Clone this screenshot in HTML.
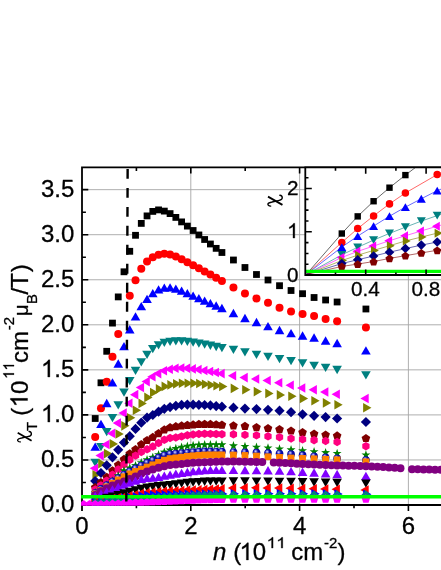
<!DOCTYPE html>
<html><head><meta charset="utf-8"><title>chart</title>
<style>html,body{margin:0;padding:0;background:#fff}body{width:441px;height:570px;overflow:hidden;font-family:"Liberation Sans",sans-serif}</style>
</head><body>
<svg width="441" height="570" viewBox="0 0 441 570" style="display:block">
<rect width="441" height="570" fill="#fff"/>
<defs><radialGradient id="sg" cx="0.42" cy="0.38" r="0.6" fx="0.38" fy="0.32"><stop offset="0" stop-color="#e6e6ff"/><stop offset="0.22" stop-color="#7a7ae0"/><stop offset="0.5" stop-color="#0a0aa6"/><stop offset="1" stop-color="#0000a0"/></radialGradient></defs>
<path d="M82 459.95 H441 M82 414.9 H441 M82 369.85 H441 M82 324.8 H441 M82 279.75 H441 M82 234.7 H441 M82 189.65 H441 M190.8 167.3 V505 M299.6 167.3 V505 M408.4 167.3 V505" stroke="#a6a6a6" stroke-width="0.9" fill="none"/>
<path d="M82 166.4 V511 M81.1 167.3 H441 M82 505 H441" stroke="#000" stroke-width="1.8" fill="none"/>
<path d="M82 482.48 h3.9 M82 459.95 h6.3 M82 437.43 h3.9 M82 414.9 h6.3 M82 392.38 h3.9 M82 369.85 h6.3 M82 347.33 h3.9 M82 324.8 h6.3 M82 302.27 h3.9 M82 279.75 h6.3 M82 257.23 h3.9 M82 234.7 h6.3 M82 212.18 h3.9 M82 189.65 h6.3 M136.4 167.3 v3.6 M190.8 167.3 v6.2 M245.2 167.3 v3.6 M299.6 167.3 v6.2 M136.4 505 v3.2 M190.8 505 v6 M245.2 505 v3.2 M299.6 505 v6 M354 505 v3.2 M408.4 505 v6" stroke="#000" stroke-width="1.6" fill="none"/>
<clipPath id="mc"><rect x="81.1" y="166.4" width="365" height="339.3"/></clipPath>
<g id="main" clip-path="url(#mc)">
<rect x="91.8" y="415.1" width="6.8" height="6.8" fill="#000000"/><rect x="97.56" y="379.4" width="6.8" height="6.8" fill="#000000"/><rect x="103.32" y="347.9" width="6.8" height="6.8" fill="#000000"/><rect x="109.08" y="319.7" width="6.8" height="6.8" fill="#000000"/><rect x="114.84" y="293.5" width="6.8" height="6.8" fill="#000000"/><rect x="120.6" y="268.4" width="6.8" height="6.8" fill="#000000"/><rect x="126.36" y="247.9" width="6.8" height="6.8" fill="#000000"/><rect x="132.12" y="231.9" width="6.8" height="6.8" fill="#000000"/><rect x="137.88" y="220" width="6.8" height="6.8" fill="#000000"/><rect x="143.64" y="212.5" width="6.8" height="6.8" fill="#000000"/><rect x="149.4" y="208" width="6.8" height="6.8" fill="#000000"/><rect x="155.16" y="206.5" width="6.8" height="6.8" fill="#000000"/><rect x="160.92" y="207.7" width="6.8" height="6.8" fill="#000000"/><rect x="166.68" y="210.2" width="6.8" height="6.8" fill="#000000"/><rect x="172.44" y="214" width="6.8" height="6.8" fill="#000000"/><rect x="178.2" y="218.5" width="6.8" height="6.8" fill="#000000"/><rect x="183.96" y="222.7" width="6.8" height="6.8" fill="#000000"/><rect x="189.72" y="227.1" width="6.8" height="6.8" fill="#000000"/><rect x="195.48" y="231.56" width="6.8" height="6.8" fill="#000000"/><rect x="201.24" y="236.09" width="6.8" height="6.8" fill="#000000"/><rect x="207" y="240.59" width="6.8" height="6.8" fill="#000000"/><rect x="212.76" y="244.95" width="6.8" height="6.8" fill="#000000"/><rect x="218.52" y="249.1" width="6.8" height="6.8" fill="#000000"/><rect x="230.04" y="256.6" width="6.8" height="6.8" fill="#000000"/><rect x="241.56" y="264.1" width="6.8" height="6.8" fill="#000000"/><rect x="253.08" y="271.1" width="6.8" height="6.8" fill="#000000"/><rect x="264.6" y="276.6" width="6.8" height="6.8" fill="#000000"/><rect x="276.12" y="282.3" width="6.8" height="6.8" fill="#000000"/><rect x="287.64" y="287.1" width="6.8" height="6.8" fill="#000000"/><rect x="299.16" y="290.3" width="6.8" height="6.8" fill="#000000"/><rect x="310.68" y="294.1" width="6.8" height="6.8" fill="#000000"/><rect x="322.2" y="296.6" width="6.8" height="6.8" fill="#000000"/><rect x="333.72" y="298.6" width="6.8" height="6.8" fill="#000000"/><rect x="362.52" y="305.6" width="6.8" height="6.8" fill="#000000"/>
<circle cx="95.2" cy="437" r="4" fill="#ff0000"/><circle cx="100.96" cy="408.2" r="4" fill="#ff0000"/><circle cx="106.72" cy="381.8" r="4" fill="#ff0000"/><circle cx="112.48" cy="356.8" r="4" fill="#ff0000"/><circle cx="118.24" cy="334.1" r="4" fill="#ff0000"/><circle cx="129.76" cy="295.83" r="4" fill="#ff0000"/><circle cx="135.52" cy="280.24" r="4" fill="#ff0000"/><circle cx="141.28" cy="268.85" r="4" fill="#ff0000"/><circle cx="147.04" cy="261.4" r="4" fill="#ff0000"/><circle cx="152.8" cy="257.2" r="4" fill="#ff0000"/><circle cx="158.56" cy="254.7" r="4" fill="#ff0000"/><circle cx="164.32" cy="253.7" r="4" fill="#ff0000"/><circle cx="170.08" cy="254.4" r="4" fill="#ff0000"/><circle cx="175.84" cy="256.4" r="4" fill="#ff0000"/><circle cx="181.6" cy="259.2" r="4" fill="#ff0000"/><circle cx="187.36" cy="262.2" r="4" fill="#ff0000"/><circle cx="193.12" cy="265.26" r="4" fill="#ff0000"/><circle cx="198.88" cy="268.33" r="4" fill="#ff0000"/><circle cx="204.64" cy="271.44" r="4" fill="#ff0000"/><circle cx="210.4" cy="274.57" r="4" fill="#ff0000"/><circle cx="216.16" cy="277.72" r="4" fill="#ff0000"/><circle cx="221.92" cy="280.9" r="4" fill="#ff0000"/><circle cx="233.44" cy="287.4" r="4" fill="#ff0000"/><circle cx="244.96" cy="293.4" r="4" fill="#ff0000"/><circle cx="256.48" cy="298.4" r="4" fill="#ff0000"/><circle cx="268" cy="302.8" r="4" fill="#ff0000"/><circle cx="279.52" cy="307.8" r="4" fill="#ff0000"/><circle cx="291.04" cy="311.6" r="4" fill="#ff0000"/><circle cx="302.56" cy="314.1" r="4" fill="#ff0000"/><circle cx="314.08" cy="316.1" r="4" fill="#ff0000"/><circle cx="325.6" cy="319.1" r="4" fill="#ff0000"/><circle cx="337.12" cy="321.3" r="4" fill="#ff0000"/><circle cx="365.92" cy="327.5" r="4" fill="#ff0000"/>
<polygon points="95.2,442.54 100,450.86 90.4,450.86" fill="#0000ff"/><polygon points="100.96,419.64 105.76,427.96 96.16,427.96" fill="#0000ff"/><polygon points="106.72,398.84 111.52,407.16 101.92,407.16" fill="#0000ff"/><polygon points="112.48,378.24 117.28,386.56 107.68,386.56" fill="#0000ff"/><polygon points="118.24,359.34 123.04,367.66 113.44,367.66" fill="#0000ff"/><polygon points="124,342.03 128.8,350.34 119.2,350.34" fill="#0000ff"/><polygon points="129.76,325.11 134.56,333.43 124.96,333.43" fill="#0000ff"/><polygon points="135.52,312.2 140.32,320.51 130.72,320.51" fill="#0000ff"/><polygon points="141.28,302 146.08,310.31 136.48,310.31" fill="#0000ff"/><polygon points="147.04,294.64 151.84,302.96 142.24,302.96" fill="#0000ff"/><polygon points="152.8,288.94 157.6,297.26 148,297.26" fill="#0000ff"/><polygon points="158.56,285.14 163.36,293.46 153.76,293.46" fill="#0000ff"/><polygon points="164.32,283.44 169.12,291.76 159.52,291.76" fill="#0000ff"/><polygon points="170.08,283.14 174.88,291.46 165.28,291.46" fill="#0000ff"/><polygon points="175.84,284.44 180.64,292.76 171.04,292.76" fill="#0000ff"/><polygon points="181.6,286.44 186.4,294.76 176.8,294.76" fill="#0000ff"/><polygon points="187.36,288.94 192.16,297.26 182.56,297.26" fill="#0000ff"/><polygon points="193.12,291.44 197.92,299.76 188.32,299.76" fill="#0000ff"/><polygon points="198.88,293.93 203.68,302.24 194.08,302.24" fill="#0000ff"/><polygon points="204.64,296.41 209.44,304.72 199.84,304.72" fill="#0000ff"/><polygon points="210.4,298.88 215.2,307.19 205.6,307.19" fill="#0000ff"/><polygon points="216.16,301.36 220.96,309.67 211.36,309.67" fill="#0000ff"/><polygon points="221.92,303.84 226.72,312.16 217.12,312.16" fill="#0000ff"/><polygon points="233.44,308.84 238.24,317.16 228.64,317.16" fill="#0000ff"/><polygon points="244.96,313.84 249.76,322.16 240.16,322.16" fill="#0000ff"/><polygon points="256.48,317.84 261.28,326.16 251.68,326.16" fill="#0000ff"/><polygon points="268,322.04 272.8,330.36 263.2,330.36" fill="#0000ff"/><polygon points="279.52,325.84 284.32,334.16 274.72,334.16" fill="#0000ff"/><polygon points="291.04,329.04 295.84,337.36 286.24,337.36" fill="#0000ff"/><polygon points="302.56,331.34 307.36,339.66 297.76,339.66" fill="#0000ff"/><polygon points="314.08,333.34 318.88,341.66 309.28,341.66" fill="#0000ff"/><polygon points="325.6,336.34 330.4,344.66 320.8,344.66" fill="#0000ff"/><polygon points="337.12,338.84 341.92,347.16 332.32,347.16" fill="#0000ff"/><polygon points="365.92,346.24 370.72,354.56 361.12,354.56" fill="#0000ff"/>
<polygon points="95.2,466.96 100,458.64 90.4,458.64" fill="#008080"/><polygon points="100.96,451.36 105.76,443.04 96.16,443.04" fill="#008080"/><polygon points="106.72,436.26 111.52,427.94 101.92,427.94" fill="#008080"/><polygon points="112.48,422.36 117.28,414.04 107.68,414.04" fill="#008080"/><polygon points="118.24,409.46 123.04,401.14 113.44,401.14" fill="#008080"/><polygon points="124,396.8 128.8,388.48 119.2,388.48" fill="#008080"/><polygon points="129.76,385.36 134.56,377.05 124.96,377.05" fill="#008080"/><polygon points="135.52,375.01 140.32,366.7 130.72,366.7" fill="#008080"/><polygon points="141.28,366.48 146.08,358.16 136.48,358.16" fill="#008080"/><polygon points="147.04,359.06 151.84,350.74 142.24,350.74" fill="#008080"/><polygon points="152.8,353.36 157.6,345.04 148,345.04" fill="#008080"/><polygon points="158.56,349.56 163.36,341.24 153.76,341.24" fill="#008080"/><polygon points="164.32,347.06 169.12,338.74 159.52,338.74" fill="#008080"/><polygon points="170.08,346.06 174.88,337.74 165.28,337.74" fill="#008080"/><polygon points="175.84,345.56 180.64,337.24 171.04,337.24" fill="#008080"/><polygon points="181.6,345.56 186.4,337.24 176.8,337.24" fill="#008080"/><polygon points="187.36,346.06 192.16,337.74 182.56,337.74" fill="#008080"/><polygon points="193.12,346.76 197.92,338.44 188.32,338.44" fill="#008080"/><polygon points="198.88,347.69 203.68,339.38 194.08,339.38" fill="#008080"/><polygon points="204.64,348.76 209.44,340.44 199.84,340.44" fill="#008080"/><polygon points="210.4,349.92 215.2,341.6 205.6,341.6" fill="#008080"/><polygon points="216.16,351.14 220.96,342.83 211.36,342.83" fill="#008080"/><polygon points="221.92,352.26 226.72,343.94 217.12,343.94" fill="#008080"/><polygon points="233.44,354.06 238.24,345.74 228.64,345.74" fill="#008080"/><polygon points="244.96,356.56 249.76,348.24 240.16,348.24" fill="#008080"/><polygon points="256.48,359.06 261.28,350.74 251.68,350.74" fill="#008080"/><polygon points="268,361.06 272.8,352.74 263.2,352.74" fill="#008080"/><polygon points="279.52,363.36 284.32,355.04 274.72,355.04" fill="#008080"/><polygon points="291.04,365.36 295.84,357.04 286.24,357.04" fill="#008080"/><polygon points="302.56,367.56 307.36,359.24 297.76,359.24" fill="#008080"/><polygon points="314.08,370.06 318.88,361.74 309.28,361.74" fill="#008080"/><polygon points="325.6,372.06 330.4,363.74 320.8,363.74" fill="#008080"/><polygon points="337.12,374.16 341.92,365.84 332.32,365.84" fill="#008080"/><polygon points="365.92,379.56 370.72,371.24 361.12,371.24" fill="#008080"/>
<polygon points="89.66,468.3 97.97,463.5 97.97,473.1" fill="#ff00ff"/><polygon points="95.42,455.6 103.73,450.8 103.73,460.4" fill="#ff00ff"/><polygon points="101.18,444.5 109.49,439.7 109.49,449.3" fill="#ff00ff"/><polygon points="106.94,433.4 115.25,428.6 115.25,438.2" fill="#ff00ff"/><polygon points="112.7,423.1 121.01,418.3 121.01,427.9" fill="#ff00ff"/><polygon points="118.46,413.11 126.77,408.31 126.77,417.91" fill="#ff00ff"/><polygon points="124.22,403.19 132.53,398.39 132.53,407.99" fill="#ff00ff"/><polygon points="129.98,394.67 138.29,389.87 138.29,399.47" fill="#ff00ff"/><polygon points="135.74,387.45 144.05,382.65 144.05,392.25" fill="#ff00ff"/><polygon points="141.5,381.6 149.81,376.8 149.81,386.4" fill="#ff00ff"/><polygon points="147.26,376.8 155.57,372 155.57,381.6" fill="#ff00ff"/><polygon points="153.02,373.6 161.33,368.8 161.33,378.4" fill="#ff00ff"/><polygon points="158.78,370.8 167.09,366 167.09,375.6" fill="#ff00ff"/><polygon points="164.54,369.3 172.85,364.5 172.85,374.1" fill="#ff00ff"/><polygon points="170.3,368.3 178.61,363.5 178.61,373.1" fill="#ff00ff"/><polygon points="176.06,368 184.37,363.2 184.37,372.8" fill="#ff00ff"/><polygon points="181.82,368.3 190.13,363.5 190.13,373.1" fill="#ff00ff"/><polygon points="187.58,368.9 195.89,364.1 195.89,373.7" fill="#ff00ff"/><polygon points="193.34,369.6 201.65,364.8 201.65,374.4" fill="#ff00ff"/><polygon points="199.1,370.47 207.41,365.67 207.41,375.27" fill="#ff00ff"/><polygon points="204.86,371.47 213.17,366.67 213.17,376.27" fill="#ff00ff"/><polygon points="210.62,372.53 218.93,367.73 218.93,377.33" fill="#ff00ff"/><polygon points="216.38,373.6 224.69,368.8 224.69,378.4" fill="#ff00ff"/><polygon points="227.9,375.8 236.21,371 236.21,380.6" fill="#ff00ff"/><polygon points="239.42,377.6 247.73,372.8 247.73,382.4" fill="#ff00ff"/><polygon points="250.94,379 259.25,374.2 259.25,383.8" fill="#ff00ff"/><polygon points="262.46,380.5 270.77,375.7 270.77,385.3" fill="#ff00ff"/><polygon points="273.98,382.7 282.29,377.9 282.29,387.5" fill="#ff00ff"/><polygon points="285.5,385.3 293.81,380.5 293.81,390.1" fill="#ff00ff"/><polygon points="297.02,388 305.33,383.2 305.33,392.8" fill="#ff00ff"/><polygon points="308.54,389.8 316.85,385 316.85,394.6" fill="#ff00ff"/><polygon points="320.06,392 328.37,387.2 328.37,396.8" fill="#ff00ff"/><polygon points="331.58,394.3 339.89,389.5 339.89,399.1" fill="#ff00ff"/><polygon points="360.38,398.5 368.69,393.7 368.69,403.3" fill="#ff00ff"/>
<polygon points="100.74,474.7 92.43,469.9 92.43,479.5" fill="#808000"/><polygon points="106.5,463.6 98.19,458.8 98.19,468.4" fill="#808000"/><polygon points="112.26,453.6 103.95,448.8 103.95,458.4" fill="#808000"/><polygon points="118.02,443.9 109.71,439.1 109.71,448.7" fill="#808000"/><polygon points="123.78,434 115.47,429.2 115.47,438.8" fill="#808000"/><polygon points="129.54,425.84 121.23,421.04 121.23,430.64" fill="#808000"/><polygon points="135.3,417.72 126.99,412.92 126.99,422.52" fill="#808000"/><polygon points="141.06,410.2 132.75,405.4 132.75,415" fill="#808000"/><polygon points="146.82,403.38 138.51,398.58 138.51,408.18" fill="#808000"/><polygon points="152.58,397.4 144.27,392.6 144.27,402.2" fill="#808000"/><polygon points="158.34,392.5 150.03,387.7 150.03,397.3" fill="#808000"/><polygon points="164.1,388.9 155.79,384.1 155.79,393.7" fill="#808000"/><polygon points="169.86,386.41 161.55,381.61 161.55,391.21" fill="#808000"/><polygon points="175.62,384.88 167.31,380.08 167.31,389.68" fill="#808000"/><polygon points="181.38,383.83 173.07,379.03 173.07,388.63" fill="#808000"/><polygon points="187.14,383.3 178.83,378.5 178.83,388.1" fill="#808000"/><polygon points="192.9,383.2 184.59,378.4 184.59,388" fill="#808000"/><polygon points="198.66,383.28 190.35,378.48 190.35,388.08" fill="#808000"/><polygon points="204.42,383.5 196.11,378.7 196.11,388.3" fill="#808000"/><polygon points="210.18,384.3 201.87,379.5 201.87,389.1" fill="#808000"/><polygon points="215.94,385.03 207.63,380.23 207.63,389.83" fill="#808000"/><polygon points="221.7,385.73 213.39,380.93 213.39,390.53" fill="#808000"/><polygon points="227.46,386.5 219.15,381.7 219.15,391.3" fill="#808000"/><polygon points="238.98,388.4 230.67,383.6 230.67,393.2" fill="#808000"/><polygon points="250.5,389.8 242.19,385 242.19,394.6" fill="#808000"/><polygon points="262.02,391.6 253.71,386.8 253.71,396.4" fill="#808000"/><polygon points="273.54,393.4 265.23,388.6 265.23,398.2" fill="#808000"/><polygon points="285.06,394.9 276.75,390.1 276.75,399.7" fill="#808000"/><polygon points="296.58,396.2 288.27,391.4 288.27,401" fill="#808000"/><polygon points="308.1,398.5 299.79,393.7 299.79,403.3" fill="#808000"/><polygon points="319.62,400.7 311.31,395.9 311.31,405.5" fill="#808000"/><polygon points="331.14,402.9 322.83,398.1 322.83,407.7" fill="#808000"/><polygon points="342.66,404.8 334.35,400 334.35,409.6" fill="#808000"/><polygon points="371.46,407.7 363.15,402.9 363.15,412.5" fill="#808000"/>
<polygon points="95.2,475.9 100.3,481 95.2,486.1 90.1,481" fill="#000080"/><polygon points="100.96,467.9 106.06,473 100.96,478.1 95.86,473" fill="#000080"/><polygon points="106.72,460.2 111.82,465.3 106.72,470.4 101.62,465.3" fill="#000080"/><polygon points="112.48,452.2 117.58,457.3 112.48,462.4 107.38,457.3" fill="#000080"/><polygon points="118.24,444.7 123.34,449.8 118.24,454.9 113.14,449.8" fill="#000080"/><polygon points="124,437.5 129.1,442.6 124,447.7 118.9,442.6" fill="#000080"/><polygon points="129.76,431.1 134.86,436.2 129.76,441.3 124.66,436.2" fill="#000080"/><polygon points="135.52,423.8 140.62,428.9 135.52,434 130.42,428.9" fill="#000080"/><polygon points="141.28,417.6 146.38,422.7 141.28,427.8 136.18,422.7" fill="#000080"/><polygon points="147.04,412.5 152.14,417.6 147.04,422.7 141.94,417.6" fill="#000080"/><polygon points="152.8,409.9 157.9,415 152.8,420.1 147.7,415" fill="#000080"/><polygon points="158.56,406.6 163.66,411.7 158.56,416.8 153.46,411.7" fill="#000080"/><polygon points="164.32,403.73 169.42,408.83 164.32,413.93 159.22,408.83" fill="#000080"/><polygon points="170.08,401.94 175.18,407.04 170.08,412.14 164.98,407.04" fill="#000080"/><polygon points="175.84,400.71 180.94,405.81 175.84,410.91 170.74,405.81" fill="#000080"/><polygon points="181.6,399.84 186.7,404.94 181.6,410.04 176.5,404.94" fill="#000080"/><polygon points="187.36,399.5 192.46,404.6 187.36,409.7 182.26,404.6" fill="#000080"/><polygon points="193.12,399.56 198.22,404.66 193.12,409.76 188.02,404.66" fill="#000080"/><polygon points="198.88,399.7 203.98,404.8 198.88,409.9 193.78,404.8" fill="#000080"/><polygon points="204.64,399.9 209.74,405 204.64,410.1 199.54,405" fill="#000080"/><polygon points="210.4,400.32 215.5,405.42 210.4,410.52 205.3,405.42" fill="#000080"/><polygon points="216.16,400.97 221.26,406.07 216.16,411.17 211.06,406.07" fill="#000080"/><polygon points="221.92,401.6 227.02,406.7 221.92,411.8 216.82,406.7" fill="#000080"/><polygon points="233.44,402.6 238.54,407.7 233.44,412.8 228.34,407.7" fill="#000080"/><polygon points="244.96,403.5 250.06,408.6 244.96,413.7 239.86,408.6" fill="#000080"/><polygon points="256.48,404 261.58,409.1 256.48,414.2 251.38,409.1" fill="#000080"/><polygon points="268,404.7 273.1,409.8 268,414.9 262.9,409.8" fill="#000080"/><polygon points="279.52,405.6 284.62,410.7 279.52,415.8 274.42,410.7" fill="#000080"/><polygon points="291.04,407.1 296.14,412.2 291.04,417.3 285.94,412.2" fill="#000080"/><polygon points="302.56,409.2 307.66,414.3 302.56,419.4 297.46,414.3" fill="#000080"/><polygon points="314.08,410.7 319.18,415.8 314.08,420.9 308.98,415.8" fill="#000080"/><polygon points="325.6,412 330.7,417.1 325.6,422.2 320.5,417.1" fill="#000080"/><polygon points="337.12,413.4 342.22,418.5 337.12,423.6 332.02,418.5" fill="#000080"/><polygon points="365.92,416.9 371.02,422 365.92,427.1 360.82,422" fill="#000080"/>
<polygon points="95.2,482.88 99.53,486.02 97.87,491.11 92.53,491.11 90.87,486.02" fill="#800000"/><polygon points="100.96,477.88 105.29,481.02 103.63,486.11 98.29,486.11 96.63,481.02" fill="#800000"/><polygon points="106.72,472.68 111.05,475.82 109.39,480.91 104.05,480.91 102.39,475.82" fill="#800000"/><polygon points="112.48,466.18 116.81,469.32 115.15,474.41 109.81,474.41 108.15,469.32" fill="#800000"/><polygon points="118.24,460.48 122.57,463.62 120.91,468.71 115.57,468.71 113.91,463.62" fill="#800000"/><polygon points="124,454.78 128.33,457.92 126.67,463.01 121.33,463.01 119.67,457.92" fill="#800000"/><polygon points="129.76,449.18 134.09,452.32 132.43,457.41 127.09,457.41 125.43,452.32" fill="#800000"/><polygon points="135.52,444.88 139.85,448.02 138.19,453.11 132.85,453.11 131.19,448.02" fill="#800000"/><polygon points="141.28,439.88 145.61,443.02 143.95,448.11 138.61,448.11 136.95,443.02" fill="#800000"/><polygon points="147.04,435.88 151.37,439.02 149.71,444.11 144.37,444.11 142.71,439.02" fill="#800000"/><polygon points="152.8,432.76 157.13,435.9 155.47,440.99 150.13,440.99 148.47,435.9" fill="#800000"/><polygon points="158.56,428.92 162.89,432.07 161.23,437.16 155.89,437.16 154.23,432.07" fill="#800000"/><polygon points="164.32,425.33 168.65,428.47 166.99,433.56 161.65,433.56 159.99,428.47" fill="#800000"/><polygon points="170.08,423.08 174.41,426.22 172.75,431.31 167.41,431.31 165.75,426.22" fill="#800000"/><polygon points="175.84,422.04 180.17,425.19 178.51,430.27 173.17,430.27 171.51,425.19" fill="#800000"/><polygon points="181.6,421.29 185.93,424.43 184.27,429.52 178.93,429.52 177.27,424.43" fill="#800000"/><polygon points="187.36,420.72 191.69,423.87 190.03,428.96 184.69,428.96 183.03,423.87" fill="#800000"/><polygon points="193.12,420.27 197.45,423.41 195.79,428.5 190.45,428.5 188.79,423.41" fill="#800000"/><polygon points="198.88,419.86 203.21,423 201.55,428.09 196.21,428.09 194.55,423" fill="#800000"/><polygon points="204.64,419.68 208.97,422.82 207.31,427.91 201.97,427.91 200.31,422.82" fill="#800000"/><polygon points="210.4,419.82 214.73,422.96 213.07,428.05 207.73,428.05 206.07,422.96" fill="#800000"/><polygon points="216.16,420.14 220.49,423.28 218.83,428.37 213.49,428.37 211.83,423.28" fill="#800000"/><polygon points="221.92,420.48 226.25,423.62 224.59,428.71 219.25,428.71 217.59,423.62" fill="#800000"/><polygon points="233.44,421.18 237.77,424.32 236.11,429.41 230.77,429.41 229.11,424.32" fill="#800000"/><polygon points="244.96,421.68 249.29,424.82 247.63,429.91 242.29,429.91 240.63,424.82" fill="#800000"/><polygon points="256.48,422.98 260.81,426.12 259.15,431.21 253.81,431.21 252.15,426.12" fill="#800000"/><polygon points="268,423.88 272.33,427.02 270.67,432.11 265.33,432.11 263.67,427.02" fill="#800000"/><polygon points="279.52,424.98 283.85,428.12 282.19,433.21 276.85,433.21 275.19,428.12" fill="#800000"/><polygon points="291.04,426.38 295.37,429.52 293.71,434.61 288.37,434.61 286.71,429.52" fill="#800000"/><polygon points="302.56,427.98 306.89,431.12 305.23,436.21 299.89,436.21 298.23,431.12" fill="#800000"/><polygon points="314.08,429.48 318.41,432.62 316.75,437.71 311.41,437.71 309.75,432.62" fill="#800000"/><polygon points="325.6,430.38 329.93,433.52 328.27,438.61 322.93,438.61 321.27,433.52" fill="#800000"/><polygon points="337.12,431.28 341.45,434.42 339.79,439.51 334.45,439.51 332.79,434.42" fill="#800000"/><polygon points="365.92,433.88 370.25,437.02 368.59,442.11 363.25,442.11 361.59,437.02" fill="#800000"/>
<polygon points="95.2,485.3 98.84,487.4 98.84,491.6 95.2,493.7 91.56,491.6 91.56,487.4" fill="#ff0080"/><polygon points="100.96,481.24 104.6,483.34 104.6,487.54 100.96,489.64 97.32,487.54 97.32,483.34" fill="#ff0080"/><polygon points="106.72,476.4 110.36,478.5 110.36,482.7 106.72,484.8 103.08,482.7 103.08,478.5" fill="#ff0080"/><polygon points="112.48,470.6 116.12,472.7 116.12,476.9 112.48,479 108.84,476.9 108.84,472.7" fill="#ff0080"/><polygon points="118.24,465.2 121.88,467.3 121.88,471.5 118.24,473.6 114.6,471.5 114.6,467.3" fill="#ff0080"/><polygon points="124,460.4 127.64,462.5 127.64,466.7 124,468.8 120.36,466.7 120.36,462.5" fill="#ff0080"/><polygon points="129.76,455.6 133.4,457.7 133.4,461.9 129.76,464 126.12,461.9 126.12,457.7" fill="#ff0080"/><polygon points="135.52,451.39 139.16,453.49 139.16,457.69 135.52,459.79 131.88,457.69 131.88,453.49" fill="#ff0080"/><polygon points="141.28,447.8 144.92,449.9 144.92,454.1 141.28,456.2 137.64,454.1 137.64,449.9" fill="#ff0080"/><polygon points="147.04,445.12 150.68,447.22 150.68,451.42 147.04,453.52 143.4,451.42 143.4,447.22" fill="#ff0080"/><polygon points="152.8,442.33 156.44,444.43 156.44,448.63 152.8,450.73 149.16,448.63 149.16,444.43" fill="#ff0080"/><polygon points="158.56,438.83 162.2,440.93 162.2,445.13 158.56,447.23 154.92,445.13 154.92,440.93" fill="#ff0080"/><polygon points="164.32,435.62 167.96,437.72 167.96,441.92 164.32,444.02 160.68,441.92 160.68,437.72" fill="#ff0080"/><polygon points="170.08,433.8 173.72,435.9 173.72,440.1 170.08,442.2 166.44,440.1 166.44,435.9" fill="#ff0080"/><polygon points="175.84,433.3 179.48,435.4 179.48,439.6 175.84,441.7 172.2,439.6 172.2,435.4" fill="#ff0080"/><polygon points="181.6,432.27 185.24,434.37 185.24,438.57 181.6,440.67 177.96,438.57 177.96,434.37" fill="#ff0080"/><polygon points="187.36,431.04 191,433.14 191,437.34 187.36,439.44 183.72,437.34 183.72,433.14" fill="#ff0080"/><polygon points="193.12,430.32 196.76,432.42 196.76,436.62 193.12,438.72 189.48,436.62 189.48,432.42" fill="#ff0080"/><polygon points="198.88,429.82 202.52,431.92 202.52,436.12 198.88,438.22 195.24,436.12 195.24,431.92" fill="#ff0080"/><polygon points="204.64,429.6 208.28,431.7 208.28,435.9 204.64,438 201,435.9 201,431.7" fill="#ff0080"/><polygon points="210.4,429.69 214.04,431.79 214.04,435.99 210.4,438.09 206.76,435.99 206.76,431.79" fill="#ff0080"/><polygon points="216.16,429.86 219.8,431.96 219.8,436.16 216.16,438.26 212.52,436.16 212.52,431.96" fill="#ff0080"/><polygon points="221.92,430 225.56,432.1 225.56,436.3 221.92,438.4 218.28,436.3 218.28,432.1" fill="#ff0080"/><polygon points="233.44,430.1 237.08,432.2 237.08,436.4 233.44,438.5 229.8,436.4 229.8,432.2" fill="#ff0080"/><polygon points="244.96,430.7 248.6,432.8 248.6,437 244.96,439.1 241.32,437 241.32,432.8" fill="#ff0080"/><polygon points="256.48,431.2 260.12,433.3 260.12,437.5 256.48,439.6 252.84,437.5 252.84,433.3" fill="#ff0080"/><polygon points="268,432.1 271.64,434.2 271.64,438.4 268,440.5 264.36,438.4 264.36,434.2" fill="#ff0080"/><polygon points="279.52,433 283.16,435.1 283.16,439.3 279.52,441.4 275.88,439.3 275.88,435.1" fill="#ff0080"/><polygon points="291.04,434.3 294.68,436.4 294.68,440.6 291.04,442.7 287.4,440.6 287.4,436.4" fill="#ff0080"/><polygon points="302.56,435.2 306.2,437.3 306.2,441.5 302.56,443.6 298.92,441.5 298.92,437.3" fill="#ff0080"/><polygon points="314.08,436.01 317.72,438.11 317.72,442.31 314.08,444.41 310.44,442.31 310.44,438.11" fill="#ff0080"/><polygon points="325.6,436.81 329.24,438.91 329.24,443.11 325.6,445.21 321.96,443.11 321.96,438.91" fill="#ff0080"/><polygon points="337.12,437.8 340.76,439.9 340.76,444.1 337.12,446.2 333.48,444.1 333.48,439.9" fill="#ff0080"/><polygon points="365.92,442 369.56,444.1 369.56,448.3 365.92,450.4 362.28,448.3 362.28,444.1" fill="#ff0080"/>
<polygon points="95.2,488 96.31,491.18 99.67,491.25 96.99,493.28 97.96,496.5 95.2,494.58 92.44,496.5 93.41,493.28 90.73,491.25 94.09,491.18" fill="#008000"/><polygon points="100.96,484.59 102.07,487.77 105.43,487.84 102.75,489.87 103.72,493.09 100.96,491.17 98.2,493.09 99.17,489.87 96.49,487.84 99.85,487.77" fill="#008000"/><polygon points="106.72,480.6 107.83,483.78 111.19,483.84 108.51,485.88 109.48,489.1 106.72,487.18 103.96,489.1 104.93,485.88 102.25,483.84 105.61,483.78" fill="#008000"/><polygon points="112.48,476.2 113.59,479.38 116.95,479.45 114.27,481.48 115.24,484.7 112.48,482.78 109.72,484.7 110.69,481.48 108.01,479.45 111.37,479.38" fill="#008000"/><polygon points="118.24,471.1 119.35,474.28 122.71,474.35 120.03,476.38 121,479.6 118.24,477.68 115.48,479.6 116.45,476.38 113.77,474.35 117.13,474.28" fill="#008000"/><polygon points="124,466 125.11,469.18 128.47,469.25 125.79,471.28 126.76,474.5 124,472.58 121.24,474.5 122.21,471.28 119.53,469.25 122.89,469.18" fill="#008000"/><polygon points="129.76,463.25 130.87,466.42 134.23,466.49 131.55,468.53 132.52,471.75 129.76,469.83 127,471.75 127.97,468.53 125.29,466.49 128.65,466.42" fill="#008000"/><polygon points="135.52,460.9 136.63,464.08 139.99,464.15 137.31,466.18 138.28,469.4 135.52,467.48 132.76,469.4 133.73,466.18 131.05,464.15 134.41,464.08" fill="#008000"/><polygon points="141.28,457.95 142.39,461.13 145.75,461.2 143.07,463.24 144.04,466.46 141.28,464.53 138.52,466.46 139.49,463.24 136.81,461.2 140.17,461.13" fill="#008000"/><polygon points="147.04,455.1 148.15,458.28 151.51,458.35 148.83,460.38 149.8,463.6 147.04,461.68 144.28,463.6 145.25,460.38 142.57,458.35 145.93,458.28" fill="#008000"/><polygon points="152.8,452.69 153.91,455.87 157.27,455.94 154.59,457.97 155.56,461.19 152.8,459.27 150.04,461.19 151.01,457.97 148.33,455.94 151.69,455.87" fill="#008000"/><polygon points="158.56,450.01 159.67,453.19 163.03,453.26 160.35,455.29 161.32,458.51 158.56,456.59 155.8,458.51 156.77,455.29 154.09,453.26 157.45,453.19" fill="#008000"/><polygon points="164.32,447.42 165.43,450.59 168.79,450.66 166.11,452.7 167.08,455.92 164.32,454 161.56,455.92 162.53,452.7 159.85,450.66 163.21,450.59" fill="#008000"/><polygon points="170.08,445.3 171.19,448.48 174.55,448.55 171.87,450.58 172.84,453.8 170.08,451.88 167.32,453.8 168.29,450.58 165.61,448.55 168.97,448.48" fill="#008000"/><polygon points="175.84,443.74 176.95,446.92 180.31,446.99 177.63,449.02 178.6,452.24 175.84,450.32 173.08,452.24 174.05,449.02 171.37,446.99 174.73,446.92" fill="#008000"/><polygon points="181.6,442.5 182.71,445.68 186.07,445.75 183.39,447.78 184.36,451 181.6,449.08 178.84,451 179.81,447.78 177.13,445.75 180.49,445.68" fill="#008000"/><polygon points="187.36,441.49 188.47,444.66 191.83,444.73 189.15,446.77 190.12,449.99 187.36,448.07 184.6,449.99 185.57,446.77 182.89,444.73 186.25,444.66" fill="#008000"/><polygon points="193.12,440.83 194.23,444 197.59,444.07 194.91,446.11 195.88,449.33 193.12,447.41 190.36,449.33 191.33,446.11 188.65,444.07 192.01,444" fill="#008000"/><polygon points="198.88,440.32 199.99,443.5 203.35,443.57 200.67,445.6 201.64,448.82 198.88,446.9 196.12,448.82 197.09,445.6 194.41,443.57 197.77,443.5" fill="#008000"/><polygon points="204.64,440.1 205.75,443.28 209.11,443.35 206.43,445.38 207.4,448.6 204.64,446.68 201.88,448.6 202.85,445.38 200.17,443.35 203.53,443.28" fill="#008000"/><polygon points="210.4,440.1 211.51,443.28 214.87,443.35 212.19,445.38 213.16,448.6 210.4,446.68 207.64,448.6 208.61,445.38 205.93,443.35 209.29,443.28" fill="#008000"/><polygon points="216.16,440.1 217.27,443.28 220.63,443.35 217.95,445.38 218.92,448.6 216.16,446.68 213.4,448.6 214.37,445.38 211.69,443.35 215.05,443.28" fill="#008000"/><polygon points="221.92,440.1 223.03,443.28 226.39,443.35 223.71,445.38 224.68,448.6 221.92,446.68 219.16,448.6 220.13,445.38 217.45,443.35 220.81,443.28" fill="#008000"/><polygon points="233.44,441.1 234.55,444.28 237.91,444.35 235.23,446.38 236.2,449.6 233.44,447.68 230.68,449.6 231.65,446.38 228.97,444.35 232.33,444.28" fill="#008000"/><polygon points="244.96,441.8 246.07,444.98 249.43,445.05 246.75,447.08 247.72,450.3 244.96,448.38 242.2,450.3 243.17,447.08 240.49,445.05 243.85,444.98" fill="#008000"/><polygon points="256.48,442.5 257.59,445.68 260.95,445.75 258.27,447.78 259.24,451 256.48,449.08 253.72,451 254.69,447.78 252.01,445.75 255.37,445.68" fill="#008000"/><polygon points="268,443.3 269.11,446.48 272.47,446.55 269.79,448.58 270.76,451.8 268,449.88 265.24,451.8 266.21,448.58 263.53,446.55 266.89,446.48" fill="#008000"/><polygon points="279.52,444.2 280.63,447.38 283.99,447.45 281.31,449.48 282.28,452.7 279.52,450.78 276.76,452.7 277.73,449.48 275.05,447.45 278.41,447.38" fill="#008000"/><polygon points="291.04,445.1 292.15,448.28 295.51,448.35 292.83,450.38 293.8,453.6 291.04,451.68 288.28,453.6 289.25,450.38 286.57,448.35 289.93,448.28" fill="#008000"/><polygon points="302.56,446.03 303.67,449.21 307.03,449.28 304.35,451.31 305.32,454.53 302.56,452.61 299.8,454.53 300.77,451.31 298.09,449.28 301.45,449.21" fill="#008000"/><polygon points="314.08,446.98 315.19,450.16 318.55,450.23 315.87,452.26 316.84,455.48 314.08,453.56 311.32,455.48 312.29,452.26 309.61,450.23 312.97,450.16" fill="#008000"/><polygon points="325.6,447.89 326.71,451.07 330.07,451.14 327.39,453.17 328.36,456.39 325.6,454.47 322.84,456.39 323.81,453.17 321.13,451.14 324.49,451.07" fill="#008000"/><polygon points="337.12,448.7 338.23,451.88 341.59,451.95 338.91,453.98 339.88,457.2 337.12,455.28 334.36,457.2 335.33,453.98 332.65,451.95 336.01,451.88" fill="#008000"/><polygon points="365.92,450.3 367.03,453.48 370.39,453.55 367.71,455.58 368.68,458.8 365.92,456.88 363.16,458.8 364.13,455.58 361.45,453.55 364.81,453.48" fill="#008000"/>
<circle cx="95.2" cy="493" r="3.85" fill="url(#sg)"/><circle cx="100.96" cy="488.91" r="3.85" fill="url(#sg)"/><circle cx="106.72" cy="485.06" r="3.85" fill="url(#sg)"/><circle cx="112.48" cy="481.4" r="3.85" fill="url(#sg)"/><circle cx="118.24" cy="478" r="3.85" fill="url(#sg)"/><circle cx="124" cy="474.6" r="3.85" fill="url(#sg)"/><circle cx="129.76" cy="471.45" r="3.85" fill="url(#sg)"/><circle cx="135.52" cy="468.43" r="3.85" fill="url(#sg)"/><circle cx="141.28" cy="465.55" r="3.85" fill="url(#sg)"/><circle cx="147.04" cy="462.8" r="3.85" fill="url(#sg)"/><circle cx="152.8" cy="460.29" r="3.85" fill="url(#sg)"/><circle cx="158.56" cy="457.67" r="3.85" fill="url(#sg)"/><circle cx="164.32" cy="455.37" r="3.85" fill="url(#sg)"/><circle cx="170.08" cy="454" r="3.85" fill="url(#sg)"/><circle cx="175.84" cy="453.5" r="3.85" fill="url(#sg)"/><circle cx="181.6" cy="453.1" r="3.85" fill="url(#sg)"/><circle cx="187.36" cy="452.56" r="3.85" fill="url(#sg)"/><circle cx="193.12" cy="452.08" r="3.85" fill="url(#sg)"/><circle cx="198.88" cy="451.62" r="3.85" fill="url(#sg)"/><circle cx="204.64" cy="451.4" r="3.85" fill="url(#sg)"/><circle cx="210.4" cy="451.43" r="3.85" fill="url(#sg)"/><circle cx="216.16" cy="451.5" r="3.85" fill="url(#sg)"/><circle cx="221.92" cy="451.6" r="3.85" fill="url(#sg)"/><circle cx="233.44" cy="452.1" r="3.85" fill="url(#sg)"/><circle cx="244.96" cy="452.3" r="3.85" fill="url(#sg)"/><circle cx="256.48" cy="452.6" r="3.85" fill="url(#sg)"/><circle cx="268" cy="453.02" r="3.85" fill="url(#sg)"/><circle cx="279.52" cy="453.55" r="3.85" fill="url(#sg)"/><circle cx="291.04" cy="454.2" r="3.85" fill="url(#sg)"/><circle cx="302.56" cy="455.17" r="3.85" fill="url(#sg)"/><circle cx="314.08" cy="456.3" r="3.85" fill="url(#sg)"/><circle cx="325.6" cy="457.41" r="3.85" fill="url(#sg)"/><circle cx="337.12" cy="458.4" r="3.85" fill="url(#sg)"/><circle cx="365.92" cy="460" r="3.85" fill="url(#sg)"/>
<rect x="91.8" y="490.6" width="6.8" height="6.8" fill="#ff8000"/><rect x="97.56" y="486.96" width="6.8" height="6.8" fill="#ff8000"/><rect x="103.32" y="483.39" width="6.8" height="6.8" fill="#ff8000"/><rect x="109.08" y="479.9" width="6.8" height="6.8" fill="#ff8000"/><rect x="114.84" y="476.5" width="6.8" height="6.8" fill="#ff8000"/><rect x="120.6" y="473.4" width="6.8" height="6.8" fill="#ff8000"/><rect x="126.36" y="470.5" width="6.8" height="6.8" fill="#ff8000"/><rect x="132.12" y="468.04" width="6.8" height="6.8" fill="#ff8000"/><rect x="137.88" y="465.78" width="6.8" height="6.8" fill="#ff8000"/><rect x="143.64" y="463.6" width="6.8" height="6.8" fill="#ff8000"/><rect x="149.4" y="461.41" width="6.8" height="6.8" fill="#ff8000"/><rect x="155.16" y="458.98" width="6.8" height="6.8" fill="#ff8000"/><rect x="160.92" y="456.73" width="6.8" height="6.8" fill="#ff8000"/><rect x="166.68" y="455.2" width="6.8" height="6.8" fill="#ff8000"/><rect x="172.44" y="454.43" width="6.8" height="6.8" fill="#ff8000"/><rect x="178.2" y="453.8" width="6.8" height="6.8" fill="#ff8000"/><rect x="183.96" y="452.95" width="6.8" height="6.8" fill="#ff8000"/><rect x="189.72" y="452.38" width="6.8" height="6.8" fill="#ff8000"/><rect x="195.48" y="451.94" width="6.8" height="6.8" fill="#ff8000"/><rect x="201.24" y="451.62" width="6.8" height="6.8" fill="#ff8000"/><rect x="207" y="451.5" width="6.8" height="6.8" fill="#ff8000"/><rect x="212.76" y="451.5" width="6.8" height="6.8" fill="#ff8000"/><rect x="218.52" y="451.5" width="6.8" height="6.8" fill="#ff8000"/><rect x="230.04" y="451.66" width="6.8" height="6.8" fill="#ff8000"/><rect x="241.56" y="452.09" width="6.8" height="6.8" fill="#ff8000"/><rect x="253.08" y="452.69" width="6.8" height="6.8" fill="#ff8000"/><rect x="264.6" y="453.37" width="6.8" height="6.8" fill="#ff8000"/><rect x="276.12" y="454.04" width="6.8" height="6.8" fill="#ff8000"/><rect x="287.64" y="454.6" width="6.8" height="6.8" fill="#ff8000"/><rect x="299.16" y="455.04" width="6.8" height="6.8" fill="#ff8000"/><rect x="310.68" y="455.45" width="6.8" height="6.8" fill="#ff8000"/><rect x="322.2" y="455.88" width="6.8" height="6.8" fill="#ff8000"/><rect x="333.72" y="456.4" width="6.8" height="6.8" fill="#ff8000"/><rect x="362.52" y="458.4" width="6.8" height="6.8" fill="#ff8000"/>
<circle cx="95.2" cy="495" r="4" fill="#800080"/><circle cx="100.96" cy="491.35" r="4" fill="#800080"/><circle cx="106.72" cy="488.17" r="4" fill="#800080"/><circle cx="112.48" cy="485.56" r="4" fill="#800080"/><circle cx="118.24" cy="483.48" r="4" fill="#800080"/><circle cx="124" cy="481.4" r="4" fill="#800080"/><circle cx="129.76" cy="479" r="4" fill="#800080"/><circle cx="135.52" cy="476.44" r="4" fill="#800080"/><circle cx="141.28" cy="473.84" r="4" fill="#800080"/><circle cx="147.04" cy="471.4" r="4" fill="#800080"/><circle cx="152.8" cy="469.41" r="4" fill="#800080"/><circle cx="158.56" cy="467.67" r="4" fill="#800080"/><circle cx="164.32" cy="466.18" r="4" fill="#800080"/><circle cx="170.08" cy="465.1" r="4" fill="#800080"/><circle cx="175.84" cy="464.45" r="4" fill="#800080"/><circle cx="181.6" cy="463.9" r="4" fill="#800080"/><circle cx="187.36" cy="463.19" r="4" fill="#800080"/><circle cx="193.12" cy="462.73" r="4" fill="#800080"/><circle cx="198.88" cy="462.46" r="4" fill="#800080"/><circle cx="204.64" cy="462.24" r="4" fill="#800080"/><circle cx="210.4" cy="462" r="4" fill="#800080"/><circle cx="216.16" cy="461.63" r="4" fill="#800080"/><circle cx="221.92" cy="461.4" r="4" fill="#800080"/><circle cx="227.68" cy="461.42" r="4" fill="#800080"/><circle cx="233.44" cy="461.49" r="4" fill="#800080"/><circle cx="239.2" cy="461.58" r="4" fill="#800080"/><circle cx="244.96" cy="461.69" r="4" fill="#800080"/><circle cx="250.72" cy="461.8" r="4" fill="#800080"/><circle cx="256.48" cy="461.93" r="4" fill="#800080"/><circle cx="262.24" cy="462.1" r="4" fill="#800080"/><circle cx="273.76" cy="462.54" r="4" fill="#800080"/><circle cx="279.52" cy="462.8" r="4" fill="#800080"/><circle cx="285.28" cy="463.07" r="4" fill="#800080"/><circle cx="291.04" cy="463.36" r="4" fill="#800080"/><circle cx="296.8" cy="463.65" r="4" fill="#800080"/><circle cx="302.56" cy="463.94" r="4" fill="#800080"/><circle cx="308.32" cy="464.22" r="4" fill="#800080"/><circle cx="314.08" cy="464.5" r="4" fill="#800080"/><circle cx="319.84" cy="464.76" r="4" fill="#800080"/><circle cx="325.6" cy="464.99" r="4" fill="#800080"/><circle cx="331.36" cy="465.2" r="4" fill="#800080"/><circle cx="337.12" cy="465.38" r="4" fill="#800080"/><circle cx="342.88" cy="465.53" r="4" fill="#800080"/><circle cx="348.64" cy="465.68" r="4" fill="#800080"/><circle cx="354.4" cy="465.83" r="4" fill="#800080"/><circle cx="360.16" cy="466" r="4" fill="#800080"/><circle cx="365.92" cy="466.2" r="4" fill="#800080"/><circle cx="371.68" cy="466.44" r="4" fill="#800080"/><circle cx="377.44" cy="466.73" r="4" fill="#800080"/><circle cx="383.2" cy="467.06" r="4" fill="#800080"/><circle cx="388.96" cy="467.41" r="4" fill="#800080"/><circle cx="394.72" cy="467.8" r="4" fill="#800080"/><circle cx="400.48" cy="468.2" r="4" fill="#800080"/><circle cx="412" cy="469.2" r="4" fill="#800080"/><circle cx="417.76" cy="469.37" r="4" fill="#800080"/><circle cx="423.52" cy="469.51" r="4" fill="#800080"/><circle cx="429.28" cy="469.61" r="4" fill="#800080"/><circle cx="435.04" cy="469.68" r="4" fill="#800080"/><circle cx="440.8" cy="469.7" r="4" fill="#800080"/>
<polygon points="95.2,491.84 100,500.16 90.4,500.16" fill="#8000ff"/><polygon points="100.96,489.61 105.76,497.92 96.16,497.92" fill="#8000ff"/><polygon points="106.72,487.38 111.52,495.69 101.92,495.69" fill="#8000ff"/><polygon points="112.48,485.14 117.28,493.46 107.68,493.46" fill="#8000ff"/><polygon points="118.24,482.82 123.04,491.14 113.44,491.14" fill="#8000ff"/><polygon points="124,480.5 128.8,488.82 119.2,488.82" fill="#8000ff"/><polygon points="129.76,478.44 134.56,486.76 124.96,486.76" fill="#8000ff"/><polygon points="135.52,476.47 140.32,484.78 130.72,484.78" fill="#8000ff"/><polygon points="141.28,474.68 146.08,483 136.48,483" fill="#8000ff"/><polygon points="147.04,473.74 151.84,482.06 142.24,482.06" fill="#8000ff"/><polygon points="152.8,473.44 157.6,481.75 148,481.75" fill="#8000ff"/><polygon points="158.56,472.63 163.36,480.94 153.76,480.94" fill="#8000ff"/><polygon points="164.32,471.53 169.12,479.84 159.52,479.84" fill="#8000ff"/><polygon points="170.08,470.38 174.88,478.7 165.28,478.7" fill="#8000ff"/><polygon points="175.84,469.44 180.64,477.76 171.04,477.76" fill="#8000ff"/><polygon points="181.6,468.65 186.4,476.96 176.8,476.96" fill="#8000ff"/><polygon points="187.36,467.82 192.16,476.13 182.56,476.13" fill="#8000ff"/><polygon points="193.12,467.03 197.92,475.34 188.32,475.34" fill="#8000ff"/><polygon points="198.88,466.37 203.68,474.68 194.08,474.68" fill="#8000ff"/><polygon points="204.64,465.91 209.44,474.23 199.84,474.23" fill="#8000ff"/><polygon points="210.4,465.74 215.2,474.06 205.6,474.06" fill="#8000ff"/><polygon points="216.16,465.75 220.96,474.06 211.36,474.06" fill="#8000ff"/><polygon points="221.92,465.76 226.72,474.07 217.12,474.07" fill="#8000ff"/><polygon points="233.44,465.79 238.24,474.11 228.64,474.11" fill="#8000ff"/><polygon points="244.96,465.84 249.76,474.16 240.16,474.16" fill="#8000ff"/><polygon points="256.48,465.94 261.28,474.25 251.68,474.25" fill="#8000ff"/><polygon points="268,466.11 272.8,474.42 263.2,474.42" fill="#8000ff"/><polygon points="279.52,466.4 284.32,474.71 274.72,474.71" fill="#8000ff"/><polygon points="291.04,466.91 295.84,475.22 286.24,475.22" fill="#8000ff"/><polygon points="302.56,467.57 307.36,475.88 297.76,475.88" fill="#8000ff"/><polygon points="314.08,468.32 318.88,476.64 309.28,476.64" fill="#8000ff"/><polygon points="325.6,469.1 330.4,477.42 320.8,477.42" fill="#8000ff"/><polygon points="337.12,469.84 341.92,478.16 332.32,478.16" fill="#8000ff"/><polygon points="365.92,471.74 370.72,480.06 361.12,480.06" fill="#8000ff"/>
<polygon points="95.2,504.46 100,496.14 90.4,496.14" fill="#000000"/><polygon points="100.96,503.37 105.76,495.06 96.16,495.06" fill="#000000"/><polygon points="106.72,502.16 111.52,493.84 101.92,493.84" fill="#000000"/><polygon points="112.48,500.78 117.28,492.46 107.68,492.46" fill="#000000"/><polygon points="118.24,499.26 123.04,490.94 113.44,490.94" fill="#000000"/><polygon points="124,497.69 128.8,489.37 119.2,489.37" fill="#000000"/><polygon points="129.76,496.16 134.56,487.84 124.96,487.84" fill="#000000"/><polygon points="135.52,494.57 140.32,486.25 130.72,486.25" fill="#000000"/><polygon points="141.28,492.99 146.08,484.68 136.48,484.68" fill="#000000"/><polygon points="147.04,491.76 151.84,483.44 142.24,483.44" fill="#000000"/><polygon points="152.8,491.02 157.6,482.71 148,482.71" fill="#000000"/><polygon points="158.56,490.4 163.36,482.09 153.76,482.09" fill="#000000"/><polygon points="164.32,489.82 169.12,481.51 159.52,481.51" fill="#000000"/><polygon points="170.08,489.22 174.88,480.91 165.28,480.91" fill="#000000"/><polygon points="175.84,488.56 180.64,480.24 171.04,480.24" fill="#000000"/><polygon points="181.6,487.76 186.4,479.44 176.8,479.44" fill="#000000"/><polygon points="187.36,487.19 192.16,478.87 182.56,478.87" fill="#000000"/><polygon points="193.12,486.65 197.92,478.34 188.32,478.34" fill="#000000"/><polygon points="198.88,486.21 203.68,477.89 194.08,477.89" fill="#000000"/><polygon points="204.64,485.89 209.44,477.58 199.84,477.58" fill="#000000"/><polygon points="210.4,485.76 215.2,477.44 205.6,477.44" fill="#000000"/><polygon points="216.16,485.73 220.96,477.41 211.36,477.41" fill="#000000"/><polygon points="221.92,485.7 226.72,477.39 217.12,477.39" fill="#000000"/><polygon points="233.44,485.67 238.24,477.35 228.64,477.35" fill="#000000"/><polygon points="244.96,485.66 249.76,477.34 240.16,477.34" fill="#000000"/><polygon points="256.48,485.7 261.28,477.38 251.68,477.38" fill="#000000"/><polygon points="268,485.8 272.8,477.49 263.2,477.49" fill="#000000"/><polygon points="279.52,485.97 284.32,477.65 274.72,477.65" fill="#000000"/><polygon points="291.04,486.17 295.84,477.86 286.24,477.86" fill="#000000"/><polygon points="302.56,486.41 307.36,478.1 297.76,478.1" fill="#000000"/><polygon points="314.08,486.66 318.88,478.35 309.28,478.35" fill="#000000"/><polygon points="325.6,486.91 330.4,478.6 320.8,478.6" fill="#000000"/><polygon points="337.12,487.16 341.92,478.84 332.32,478.84" fill="#000000"/><polygon points="365.92,487.86 370.72,479.54 361.12,479.54" fill="#000000"/>
<polygon points="89.66,501.3 97.97,496.5 97.97,506.1" fill="#ff0000"/><polygon points="95.42,500.45 103.73,495.65 103.73,505.25" fill="#ff0000"/><polygon points="101.18,499.56 109.49,494.76 109.49,504.36" fill="#ff0000"/><polygon points="106.94,498.65 115.25,493.85 115.25,503.45" fill="#ff0000"/><polygon points="112.7,497.72 121.01,492.92 121.01,502.52" fill="#ff0000"/><polygon points="118.46,496.77 126.77,491.97 126.77,501.57" fill="#ff0000"/><polygon points="124.22,495.8 132.53,491 132.53,500.6" fill="#ff0000"/><polygon points="129.98,494.69 138.29,489.89 138.29,499.49" fill="#ff0000"/><polygon points="135.74,493.54 144.05,488.74 144.05,498.34" fill="#ff0000"/><polygon points="141.5,492.7 149.81,487.9 149.81,497.5" fill="#ff0000"/><polygon points="147.26,492.18 155.57,487.38 155.57,496.98" fill="#ff0000"/><polygon points="153.02,491.76 161.33,486.96 161.33,496.56" fill="#ff0000"/><polygon points="158.78,491.41 167.09,486.61 167.09,496.21" fill="#ff0000"/><polygon points="164.54,491.1 172.85,486.3 172.85,495.9" fill="#ff0000"/><polygon points="170.3,490.8 178.61,486 178.61,495.6" fill="#ff0000"/><polygon points="176.06,490.51 184.37,485.71 184.37,495.31" fill="#ff0000"/><polygon points="181.82,490.25 190.13,485.45 190.13,495.05" fill="#ff0000"/><polygon points="187.58,490.01 195.89,485.21 195.89,494.81" fill="#ff0000"/><polygon points="193.34,489.78 201.65,484.98 201.65,494.58" fill="#ff0000"/><polygon points="199.1,489.54 207.41,484.74 207.41,494.34" fill="#ff0000"/><polygon points="204.86,489.3 213.17,484.5 213.17,494.1" fill="#ff0000"/><polygon points="210.62,489.02 218.93,484.22 218.93,493.82" fill="#ff0000"/><polygon points="216.38,488.69 224.69,483.89 224.69,493.49" fill="#ff0000"/><polygon points="227.9,488.08 236.21,483.28 236.21,492.88" fill="#ff0000"/><polygon points="239.42,487.8 247.73,483 247.73,492.6" fill="#ff0000"/><polygon points="250.94,487.84 259.25,483.04 259.25,492.64" fill="#ff0000"/><polygon points="262.46,487.95 270.77,483.15 270.77,492.75" fill="#ff0000"/><polygon points="273.98,488.11 282.29,483.31 282.29,492.91" fill="#ff0000"/><polygon points="285.5,488.32 293.81,483.52 293.81,493.12" fill="#ff0000"/><polygon points="297.02,488.55 305.33,483.75 305.33,493.35" fill="#ff0000"/><polygon points="308.54,488.8 316.85,484 316.85,493.6" fill="#ff0000"/><polygon points="320.06,489.06 328.37,484.26 328.37,493.86" fill="#ff0000"/><polygon points="331.58,489.3 339.89,484.5 339.89,494.1" fill="#ff0000"/><polygon points="360.38,490 368.69,485.2 368.69,494.8" fill="#ff0000"/>
<polygon points="100.74,502.3 92.43,497.5 92.43,507.1" fill="#0000ff"/><polygon points="106.5,501.42 98.19,496.62 98.19,506.22" fill="#0000ff"/><polygon points="112.26,500.58 103.95,495.78 103.95,505.38" fill="#0000ff"/><polygon points="118.02,499.77 109.71,494.97 109.71,504.57" fill="#0000ff"/><polygon points="123.78,498.98 115.47,494.18 115.47,503.78" fill="#0000ff"/><polygon points="129.54,498.23 121.23,493.43 121.23,503.03" fill="#0000ff"/><polygon points="135.3,497.5 126.99,492.7 126.99,502.3" fill="#0000ff"/><polygon points="141.06,496.73 132.75,491.93 132.75,501.53" fill="#0000ff"/><polygon points="146.82,495.96 138.51,491.16 138.51,500.76" fill="#0000ff"/><polygon points="152.58,495.37 144.27,490.57 144.27,500.17" fill="#0000ff"/><polygon points="158.34,495.1 150.03,490.3 150.03,499.9" fill="#0000ff"/><polygon points="164.1,494.93 155.79,490.13 155.79,499.73" fill="#0000ff"/><polygon points="169.86,494.8 161.55,490 161.55,499.6" fill="#0000ff"/><polygon points="175.62,494.7 167.31,489.9 167.31,499.5" fill="#0000ff"/><polygon points="181.38,494.6 173.07,489.8 173.07,499.4" fill="#0000ff"/><polygon points="187.14,494.5 178.83,489.7 178.83,499.3" fill="#0000ff"/><polygon points="192.9,494.38 184.59,489.58 184.59,499.18" fill="#0000ff"/><polygon points="198.66,494.27 190.35,489.47 190.35,499.07" fill="#0000ff"/><polygon points="204.42,494.16 196.11,489.36 196.11,498.96" fill="#0000ff"/><polygon points="210.18,494.07 201.87,489.27 201.87,498.87" fill="#0000ff"/><polygon points="215.94,494 207.63,489.2 207.63,498.8" fill="#0000ff"/><polygon points="221.7,493.95 213.39,489.15 213.39,498.75" fill="#0000ff"/><polygon points="227.46,493.9 219.15,489.1 219.15,498.7" fill="#0000ff"/><polygon points="238.98,493.83 230.67,489.03 230.67,498.63" fill="#0000ff"/><polygon points="250.5,493.8 242.19,489 242.19,498.6" fill="#0000ff"/><polygon points="262.02,493.8 253.71,489 253.71,498.6" fill="#0000ff"/><polygon points="273.54,493.8 265.23,489 265.23,498.6" fill="#0000ff"/><polygon points="285.06,493.8 276.75,489 276.75,498.6" fill="#0000ff"/><polygon points="296.58,493.8 288.27,489 288.27,498.6" fill="#0000ff"/><polygon points="308.1,493.8 299.79,489 299.79,498.6" fill="#0000ff"/><polygon points="319.62,493.82 311.31,489.02 311.31,498.62" fill="#0000ff"/><polygon points="331.14,493.88 322.83,489.08 322.83,498.68" fill="#0000ff"/><polygon points="342.66,493.95 334.35,489.15 334.35,498.75" fill="#0000ff"/><polygon points="371.46,494.2 363.15,489.4 363.15,499" fill="#0000ff"/>
<polygon points="95.2,497.9 100.3,503 95.2,508.1 90.1,503" fill="#008080"/><polygon points="100.96,497.55 106.06,502.65 100.96,507.75 95.86,502.65" fill="#008080"/><polygon points="106.72,497.16 111.82,502.26 106.72,507.36 101.62,502.26" fill="#008080"/><polygon points="112.48,496.75 117.58,501.85 112.48,506.95 107.38,501.85" fill="#008080"/><polygon points="118.24,496.32 123.34,501.42 118.24,506.52 113.14,501.42" fill="#008080"/><polygon points="124,495.87 129.1,500.97 124,506.07 118.9,500.97" fill="#008080"/><polygon points="129.76,495.4 134.86,500.5 129.76,505.6 124.66,500.5" fill="#008080"/><polygon points="135.52,494.86 140.62,499.96 135.52,505.06 130.42,499.96" fill="#008080"/><polygon points="141.28,494.27 146.38,499.37 141.28,504.47 136.18,499.37" fill="#008080"/><polygon points="147.04,493.73 152.14,498.83 147.04,503.93 141.94,498.83" fill="#008080"/><polygon points="152.8,493.31 157.9,498.41 152.8,503.51 147.7,498.41" fill="#008080"/><polygon points="158.56,492.95 163.66,498.05 158.56,503.15 153.46,498.05" fill="#008080"/><polygon points="164.32,492.63 169.42,497.73 164.32,502.83 159.22,497.73" fill="#008080"/><polygon points="170.08,492.33 175.18,497.43 170.08,502.53 164.98,497.43" fill="#008080"/><polygon points="175.84,492.06 180.94,497.16 175.84,502.26 170.74,497.16" fill="#008080"/><polygon points="181.6,491.8 186.7,496.9 181.6,502 176.5,496.9" fill="#008080"/><polygon points="187.36,491.53 192.46,496.63 187.36,501.73 182.26,496.63" fill="#008080"/><polygon points="193.12,491.27 198.22,496.37 193.12,501.47 188.02,496.37" fill="#008080"/><polygon points="198.88,491.02 203.98,496.12 198.88,501.22 193.78,496.12" fill="#008080"/><polygon points="204.64,490.83 209.74,495.93 204.64,501.03 199.54,495.93" fill="#008080"/><polygon points="210.4,490.7 215.5,495.8 210.4,500.9 205.3,495.8" fill="#008080"/><polygon points="216.16,490.62 221.26,495.72 216.16,500.82 211.06,495.72" fill="#008080"/><polygon points="221.92,490.55 227.02,495.65 221.92,500.75 216.82,495.65" fill="#008080"/><polygon points="233.44,490.44 238.54,495.54 233.44,500.64 228.34,495.54" fill="#008080"/><polygon points="244.96,490.4 250.06,495.5 244.96,500.6 239.86,495.5" fill="#008080"/><polygon points="256.48,490.4 261.58,495.5 256.48,500.6 251.38,495.5" fill="#008080"/><polygon points="268,490.4 273.1,495.5 268,500.6 262.9,495.5" fill="#008080"/><polygon points="279.52,490.4 284.62,495.5 279.52,500.6 274.42,495.5" fill="#008080"/><polygon points="291.04,490.4 296.14,495.5 291.04,500.6 285.94,495.5" fill="#008080"/><polygon points="302.56,490.4 307.66,495.5 302.56,500.6 297.46,495.5" fill="#008080"/><polygon points="314.08,490.39 319.18,495.49 314.08,500.59 308.98,495.49" fill="#008080"/><polygon points="325.6,490.38 330.7,495.48 325.6,500.58 320.5,495.48" fill="#008080"/><polygon points="337.12,490.36 342.22,495.46 337.12,500.56 332.02,495.46" fill="#008080"/><polygon points="365.92,490.3 371.02,495.4 365.92,500.5 360.82,495.4" fill="#008080"/>
<polygon points="83.68,500.08 88.01,503.22 86.35,508.31 81.01,508.31 79.35,503.22" fill="#ff00ff"/><polygon points="89.44,500.04 93.77,503.18 92.11,508.27 86.77,508.27 85.11,503.18" fill="#ff00ff"/><polygon points="95.2,499.97 99.53,503.11 97.87,508.2 92.53,508.2 90.87,503.11" fill="#ff00ff"/><polygon points="100.96,499.88 105.29,503.02 103.63,508.11 98.29,508.11 96.63,503.02" fill="#ff00ff"/><polygon points="106.72,499.75 111.05,502.89 109.39,507.98 104.05,507.98 102.39,502.89" fill="#ff00ff"/><polygon points="112.48,499.54 116.81,502.68 115.15,507.77 109.81,507.77 108.15,502.68" fill="#ff00ff"/><polygon points="118.24,499.27 122.57,502.41 120.91,507.5 115.57,507.5 113.91,502.41" fill="#ff00ff"/><polygon points="124,498.95 128.33,502.1 126.67,507.19 121.33,507.19 119.67,502.1" fill="#ff00ff"/><polygon points="129.76,498.62 134.09,501.76 132.43,506.85 127.09,506.85 125.43,501.76" fill="#ff00ff"/><polygon points="135.52,498.27 139.85,501.42 138.19,506.5 132.85,506.5 131.19,501.42" fill="#ff00ff"/><polygon points="141.28,497.94 145.61,501.08 143.95,506.17 138.61,506.17 136.95,501.08" fill="#ff00ff"/><polygon points="147.04,497.63 151.37,500.77 149.71,505.86 144.37,505.86 142.71,500.77" fill="#ff00ff"/><polygon points="152.8,497.35 157.13,500.49 155.47,505.58 150.13,505.58 148.47,500.49" fill="#ff00ff"/><polygon points="158.56,497.06 162.89,500.2 161.23,505.29 155.89,505.29 154.23,500.2" fill="#ff00ff"/><polygon points="164.32,496.76 168.65,499.91 166.99,504.99 161.65,504.99 159.99,499.91" fill="#ff00ff"/><polygon points="170.08,496.47 174.41,499.61 172.75,504.7 167.41,504.7 165.75,499.61" fill="#ff00ff"/><polygon points="175.84,496.18 180.17,499.32 178.51,504.41 173.17,504.41 171.51,499.32" fill="#ff00ff"/><polygon points="181.6,495.91 185.93,499.05 184.27,504.14 178.93,504.14 177.27,499.05" fill="#ff00ff"/><polygon points="187.36,495.66 191.69,498.8 190.03,503.89 184.69,503.89 183.03,498.8" fill="#ff00ff"/><polygon points="193.12,495.45 197.45,498.59 195.79,503.68 190.45,503.68 188.79,498.59" fill="#ff00ff"/><polygon points="198.88,495.28 203.21,498.42 201.55,503.51 196.21,503.51 194.55,498.42" fill="#ff00ff"/><polygon points="204.64,495.14 208.97,498.28 207.31,503.37 201.97,503.37 200.31,498.28" fill="#ff00ff"/><polygon points="210.4,494.99 214.73,498.14 213.07,503.22 207.73,503.22 206.07,498.14" fill="#ff00ff"/><polygon points="216.16,494.86 220.49,498 218.83,503.09 213.49,503.09 211.83,498" fill="#ff00ff"/><polygon points="221.92,494.74 226.25,497.88 224.59,502.97 219.25,502.97 217.59,497.88" fill="#ff00ff"/><polygon points="233.44,494.55 237.77,497.7 236.11,502.78 230.77,502.78 229.11,497.7" fill="#ff00ff"/><polygon points="244.96,494.48 249.29,497.62 247.63,502.71 242.29,502.71 240.63,497.62" fill="#ff00ff"/><polygon points="256.48,494.48 260.81,497.62 259.15,502.71 253.81,502.71 252.15,497.62" fill="#ff00ff"/><polygon points="268,494.48 272.33,497.62 270.67,502.71 265.33,502.71 263.67,497.62" fill="#ff00ff"/><polygon points="279.52,494.48 283.85,497.62 282.19,502.71 276.85,502.71 275.19,497.62" fill="#ff00ff"/><polygon points="291.04,494.48 295.37,497.62 293.71,502.71 288.37,502.71 286.71,497.62" fill="#ff00ff"/><polygon points="302.56,494.48 306.89,497.62 305.23,502.71 299.89,502.71 298.23,497.62" fill="#ff00ff"/><polygon points="314.08,494.48 318.41,497.62 316.75,502.71 311.41,502.71 309.75,497.62" fill="#ff00ff"/><polygon points="325.6,494.48 329.93,497.62 328.27,502.71 322.93,502.71 321.27,497.62" fill="#ff00ff"/><polygon points="337.12,494.48 341.45,497.62 339.79,502.71 334.45,502.71 332.79,497.62" fill="#ff00ff"/><polygon points="365.92,494.48 370.25,497.62 368.59,502.71 363.25,502.71 361.59,497.62" fill="#ff00ff"/>
</g>
<path d="M81.1 496.7 H441" stroke="#00ff00" stroke-width="3.6" fill="none"/>
<path d="M127.64 168.9 L127.6 178.7 M127.57 187.89 L127.53 197.69 M127.49 206.88 L127.45 216.68 M127.41 225.87 L127.37 235.67 M127.34 244.86 L127.3 254.66 M127.26 263.85 L127.22 273.65 M127.18 282.84 L127.14 292.64 M127.11 301.83 L127.07 311.63 M127.03 320.82 L126.99 330.62 M126.95 339.81 L126.91 349.61 M126.87 358.8 L126.84 368.6 M126.8 377.79 L126.76 387.59 M126.72 396.78 L126.68 406.58 M126.64 415.77 L126.6 425.57 M126.57 434.76 L126.53 444.56 M126.49 453.75 L126.45 463.55 M126.41 472.74 L126.37 482.54 M126.34 491.73 L126.3 501.53" stroke="#000" stroke-width="2.4" fill="none"/>
<rect x="305.3" y="167.3" width="140" height="107.7" fill="#fff"/>
<clipPath id="ic"><rect x="305.3" y="167.3" width="140" height="107.7"/></clipPath>
<g clip-path="url(#ic)">
<polyline points="306.2,274.5 341.8,233.53 357.7,216.37 373.6,201.24 389.5,187.68 405.4,175.09 421.3,163.03 437.2,153.18 453.1,145.49 469,139.77" fill="none" stroke="#000000" stroke-width="0.6"/>
<rect x="338.6" y="230.33" width="6.39" height="6.39" fill="#000000"/><rect x="354.5" y="213.18" width="6.39" height="6.39" fill="#000000"/><rect x="370.4" y="198.04" width="6.39" height="6.39" fill="#000000"/><rect x="386.3" y="184.49" width="6.39" height="6.39" fill="#000000"/><rect x="402.2" y="171.9" width="6.39" height="6.39" fill="#000000"/><rect x="418.1" y="159.83" width="6.39" height="6.39" fill="#000000"/><rect x="434" y="149.98" width="6.39" height="6.39" fill="#000000"/><rect x="449.9" y="142.29" width="6.39" height="6.39" fill="#000000"/><rect x="465.8" y="136.57" width="6.39" height="6.39" fill="#000000"/>
<polyline points="306.2,274.5 341.8,242.42 357.7,228.58 373.6,215.89 389.5,203.88 405.4,192.97 437.2,174.58 453.1,167.08 469,161.61" fill="none" stroke="#ff0000" stroke-width="0.6"/>
<circle cx="341.8" cy="242.42" r="3.76" fill="#ff0000"/><circle cx="357.7" cy="228.58" r="3.76" fill="#ff0000"/><circle cx="373.6" cy="215.89" r="3.76" fill="#ff0000"/><circle cx="389.5" cy="203.88" r="3.76" fill="#ff0000"/><circle cx="405.4" cy="192.97" r="3.76" fill="#ff0000"/><circle cx="437.2" cy="174.58" r="3.76" fill="#ff0000"/><circle cx="453.1" cy="167.08" r="3.76" fill="#ff0000"/><circle cx="469" cy="161.61" r="3.76" fill="#ff0000"/>
<polyline points="306.2,274.5 341.8,247.08 357.7,236.08 373.6,226.08 389.5,216.18 405.4,207.1 421.3,198.78 437.2,190.65 453.1,184.44 469,179.54" fill="none" stroke="#0000ff" stroke-width="0.6"/>
<polygon points="341.8,243.17 346.31,250.99 337.29,250.99" fill="#0000ff"/><polygon points="357.7,232.17 362.21,239.98 353.19,239.98" fill="#0000ff"/><polygon points="373.6,222.17 378.11,229.99 369.09,229.99" fill="#0000ff"/><polygon points="389.5,212.27 394.01,220.09 384.99,220.09" fill="#0000ff"/><polygon points="405.4,203.19 409.91,211.01 400.89,211.01" fill="#0000ff"/><polygon points="421.3,194.87 425.81,202.68 416.79,202.68" fill="#0000ff"/><polygon points="437.2,186.74 441.71,194.56 432.69,194.56" fill="#0000ff"/><polygon points="453.1,180.53 457.61,188.35 448.59,188.35" fill="#0000ff"/><polygon points="469,175.63 473.51,183.45 464.49,183.45" fill="#0000ff"/>
<polyline points="306.2,274.5 341.8,254.82 357.7,247.32 373.6,240.07 389.5,233.39 405.4,227.19 421.3,221.1 437.2,215.61 453.1,210.63 469,206.53" fill="none" stroke="#008080" stroke-width="0.6"/>
<polygon points="341.8,258.73 346.31,250.91 337.29,250.91" fill="#008080"/><polygon points="357.7,251.23 362.21,243.42 353.19,243.42" fill="#008080"/><polygon points="373.6,243.97 378.11,236.16 369.09,236.16" fill="#008080"/><polygon points="389.5,237.29 394.01,229.48 384.99,229.48" fill="#008080"/><polygon points="405.4,231.09 409.91,223.28 400.89,223.28" fill="#008080"/><polygon points="421.3,225.01 425.81,217.2 416.79,217.2" fill="#008080"/><polygon points="437.2,219.51 441.71,211.7 432.69,211.7" fill="#008080"/><polygon points="453.1,214.54 457.61,206.73 448.59,206.73" fill="#008080"/><polygon points="469,210.44 473.51,202.62 464.49,202.62" fill="#008080"/>
<polyline points="306.2,274.5 341.8,257.46 357.7,251.36 373.6,246.03 389.5,240.69 405.4,235.74 421.3,230.94 437.2,226.17 453.1,222.08 469,218.61" fill="none" stroke="#ff00ff" stroke-width="0.6"/>
<polygon points="336.59,257.46 344.4,252.95 344.4,261.97" fill="#ff00ff"/><polygon points="352.49,251.36 360.3,246.85 360.3,255.87" fill="#ff00ff"/><polygon points="368.39,246.03 376.2,241.51 376.2,250.54" fill="#ff00ff"/><polygon points="384.29,240.69 392.1,236.18 392.1,245.2" fill="#ff00ff"/><polygon points="400.19,235.74 408,231.23 408,240.25" fill="#ff00ff"/><polygon points="416.09,230.94 423.9,226.43 423.9,235.45" fill="#ff00ff"/><polygon points="431.99,226.17 439.8,221.66 439.8,230.68" fill="#ff00ff"/><polygon points="447.89,222.08 455.7,217.57 455.7,226.59" fill="#ff00ff"/><polygon points="463.79,218.61 471.6,214.1 471.6,223.12" fill="#ff00ff"/>
<polyline points="306.2,274.5 341.8,260.54 357.7,255.2 373.6,250.4 389.5,245.74 405.4,240.98 421.3,237.06 437.2,233.16 453.1,229.54 469,226.26" fill="none" stroke="#808000" stroke-width="0.6"/>
<polygon points="347.01,260.54 339.2,256.03 339.2,265.05" fill="#808000"/><polygon points="362.91,255.2 355.1,250.69 355.1,259.72" fill="#808000"/><polygon points="378.81,250.4 371,245.89 371,254.91" fill="#808000"/><polygon points="394.71,245.74 386.9,241.22 386.9,250.25" fill="#808000"/><polygon points="410.61,240.98 402.8,236.47 402.8,245.49" fill="#808000"/><polygon points="426.51,237.06 418.7,232.55 418.7,241.57" fill="#808000"/><polygon points="442.41,233.16 434.6,228.64 434.6,237.67" fill="#808000"/><polygon points="458.31,229.54 450.5,225.03 450.5,234.05" fill="#808000"/><polygon points="474.21,226.26 466.4,221.75 466.4,230.77" fill="#808000"/>
<polyline points="306.2,274.5 341.8,263.57 357.7,259.72 373.6,256.02 389.5,252.18 405.4,248.57 421.3,245.11 437.2,242.04 453.1,238.53 469,235.55" fill="none" stroke="#000080" stroke-width="0.6"/>
<polygon points="341.8,258.77 346.59,263.57 341.8,268.36 337.01,263.57" fill="#000080"/><polygon points="357.7,254.93 362.49,259.72 357.7,264.52 352.91,259.72" fill="#000080"/><polygon points="373.6,251.23 378.39,256.02 373.6,260.82 368.81,256.02" fill="#000080"/><polygon points="389.5,247.38 394.29,252.18 389.5,256.97 384.71,252.18" fill="#000080"/><polygon points="405.4,243.78 410.19,248.57 405.4,253.37 400.61,248.57" fill="#000080"/><polygon points="421.3,240.32 426.09,245.11 421.3,249.91 416.51,245.11" fill="#000080"/><polygon points="437.2,237.24 441.99,242.04 437.2,246.83 432.41,242.04" fill="#000080"/><polygon points="453.1,233.73 457.89,238.53 453.1,243.32 448.31,238.53" fill="#000080"/><polygon points="469,230.75 473.79,235.55 469,240.34 464.21,235.55" fill="#000080"/>
<polyline points="306.2,274.5 341.8,266.45 357.7,264.05 373.6,261.55 389.5,258.42 405.4,255.68 421.3,252.95 437.2,250.25 453.1,248.19 469,245.78" fill="none" stroke="#800000" stroke-width="0.6"/>
<polygon points="341.8,262.6 345.87,265.56 344.31,270.34 339.29,270.34 337.73,265.56" fill="#800000"/><polygon points="357.7,260.2 361.77,263.16 360.21,267.94 355.19,267.94 353.63,263.16" fill="#800000"/><polygon points="373.6,257.7 377.67,260.66 376.11,265.44 371.09,265.44 369.53,260.66" fill="#800000"/><polygon points="389.5,254.58 393.57,257.53 392.01,262.31 386.99,262.31 385.43,257.53" fill="#800000"/><polygon points="405.4,251.84 409.47,254.79 407.91,259.57 402.89,259.57 401.33,254.79" fill="#800000"/><polygon points="421.3,249.1 425.37,252.05 423.81,256.84 418.79,256.84 417.23,252.05" fill="#800000"/><polygon points="437.2,246.41 441.27,249.36 439.71,254.14 434.69,254.14 433.13,249.36" fill="#800000"/><polygon points="453.1,244.34 457.17,247.3 455.61,252.08 450.59,252.08 449.03,247.3" fill="#800000"/><polygon points="469,241.94 473.07,244.89 471.51,249.67 466.49,249.67 464.93,244.89" fill="#800000"/>
<path d="M305.3 271.4 H441" stroke="#00ff00" stroke-width="3.3" fill="none"/>
</g>
<path d="M305.3 166.4 V275.9 M304.4 275 H441 M305 167.3 H441" stroke="#000" stroke-width="1.8" fill="none"/>
<path d="M305.3 264.28 h3.2 M305.3 253.45 h3.2 M305.3 242.63 h3.2 M305.3 231.8 h6.5 M305.3 220.98 h3.2 M305.3 210.15 h3.2 M305.3 199.33 h3.2 M305.3 188.5 h6.5 M305.3 177.68 h3.2 M335.5 167.3 v3.5 M335.5 275 v-2.6 M365.7 167.3 v6.4 M365.7 275 v-5.5 M395.9 167.3 v3.5 M395.9 275 v-2.6 M426.1 167.3 v6.4 M426.1 275 v-5.5" stroke="#000" stroke-width="1.6" fill="none"/>
<g font-family="'Liberation Sans', sans-serif" fill="#000" stroke="#000" stroke-width="0.3" stroke-linejoin="round" opacity="0.999">
<g transform="translate(27.6,442.3) rotate(-90) scale(1.000)" fill="none" stroke="#000" stroke-linecap="round"><path d="M0.4 -7.3C0.5 -9.5 1.6 -10.2 2.6 -9.9C3.6 -9.5 3.9 -8.2 4.3 -6L5.6 0C6.1 2.4 6.9 3.8 8.4 3.8C9.8 3.8 10.6 2.8 10.8 1.5" stroke-width="1.35"/><path d="M9.5 -9.9L1.6 4.0" stroke-width="1.75" stroke-linecap="butt"/></g>
<text transform="translate(36.8,430.9) rotate(-90)" font-size="15" fill="#000" text-anchor="start">T</text>
<text transform="translate(27.6,415.8) rotate(-90)" font-size="24" fill="#000" text-anchor="start">(</text>
<g transform="translate(27.6,407.3) rotate(-90)" fill="#000"><path vector-effect="non-scaling-stroke" transform="translate(0,0) scale(0.01172,-0.01172)" d="M763 0H583V1147Q518 1085 412.5 1023T223 930V1104Q373 1174.5 485.5 1275T645 1470H763Z"/></g>
<g transform="translate(27.6,394.1) rotate(-90)" fill="#000"><text x="0" y="0" font-size="24">0</text></g>
<g transform="translate(14,378.9) rotate(-90)" fill="#000"><path vector-effect="non-scaling-stroke" transform="translate(0,0) scale(0.00732,-0.00732)" d="M763 0H583V1147Q518 1085 412.5 1023T223 930V1104Q373 1174.5 485.5 1275T645 1470H763Z"/><path vector-effect="non-scaling-stroke" transform="translate(8.34,0) scale(0.00732,-0.00732)" d="M763 0H583V1147Q518 1085 412.5 1023T223 930V1104Q373 1174.5 485.5 1275T645 1470H763Z"/></g>
<text transform="translate(27.6,363.1) rotate(-90)" font-size="24" fill="#000" text-anchor="start">cm</text>
<g transform="translate(13.9,330.3) rotate(-90)" fill="#000"><text x="0" y="0" font-size="15">-2</text></g>
<text transform="translate(27.7,316.1) rotate(-90)" font-size="20" fill="#000" text-anchor="start">μ</text>
<text transform="translate(37.2,304) rotate(-90)" font-size="15" fill="#000" text-anchor="start">B</text>
<text transform="translate(27.7,294.4) rotate(-90)" font-size="24" fill="#000" text-anchor="start">/</text>
<text transform="translate(27.6,288.3) rotate(-90) scale(1.04,1)" font-size="24" fill="#000" text-anchor="start">T</text>
<text transform="translate(27.6,272.3) rotate(-90)" font-size="24" fill="#000" text-anchor="start">)</text>
<text transform="translate(213.1,560)" font-size="24" fill="#000" text-anchor="start" font-style="italic">n</text>
<text transform="translate(233.2,560)" font-size="24" fill="#000" text-anchor="start">(</text>
<g transform="translate(239.5,560)" fill="#000"><path vector-effect="non-scaling-stroke" transform="translate(0,0) scale(0.01172,-0.01172)" d="M763 0H583V1147Q518 1085 412.5 1023T223 930V1104Q373 1174.5 485.5 1275T645 1470H763Z"/><text x="13.34" y="0" font-size="24">0</text></g>
<g transform="translate(266.6,548.1) scale(1.16,1)" fill="#000"><path vector-effect="non-scaling-stroke" transform="translate(0,0) scale(0.00732,-0.00732)" d="M763 0H583V1147Q518 1085 412.5 1023T223 930V1104Q373 1174.5 485.5 1275T645 1470H763Z"/><path vector-effect="non-scaling-stroke" transform="translate(8.34,0) scale(0.00732,-0.00732)" d="M763 0H583V1147Q518 1085 412.5 1023T223 930V1104Q373 1174.5 485.5 1275T645 1470H763Z"/></g>
<text transform="translate(291.3,560)" font-size="24" fill="#000" text-anchor="start">cm</text>
<g transform="translate(323.9,548.3)" fill="#000"><text x="0" y="0" font-size="15">-2</text></g>
<text transform="translate(337.4,560)" font-size="24" fill="#000" text-anchor="start">)</text>
<g transform="translate(74.3,512.2)" fill="#000"><text x="-33.36" y="0" font-size="24">0.0</text></g>
<g transform="translate(74.3,467.15)" fill="#000"><text x="-33.36" y="0" font-size="24">0.5</text></g>
<g transform="translate(74.3,422.1)" fill="#000"><path vector-effect="non-scaling-stroke" transform="translate(-33.36,0) scale(0.01172,-0.01172)" d="M763 0H583V1147Q518 1085 412.5 1023T223 930V1104Q373 1174.5 485.5 1275T645 1470H763Z"/><text x="-20.02" y="0" font-size="24">.0</text></g>
<g transform="translate(74.3,377.05)" fill="#000"><path vector-effect="non-scaling-stroke" transform="translate(-33.36,0) scale(0.01172,-0.01172)" d="M763 0H583V1147Q518 1085 412.5 1023T223 930V1104Q373 1174.5 485.5 1275T645 1470H763Z"/><text x="-20.02" y="0" font-size="24">.5</text></g>
<g transform="translate(74.3,332)" fill="#000"><text x="-33.36" y="0" font-size="24">2.0</text></g>
<g transform="translate(74.3,286.95)" fill="#000"><text x="-33.36" y="0" font-size="24">2.5</text></g>
<g transform="translate(74.3,241.9)" fill="#000"><text x="-33.36" y="0" font-size="24">3.0</text></g>
<g transform="translate(74.3,196.85)" fill="#000"><text x="-33.36" y="0" font-size="24">3.5</text></g>
<g transform="translate(82,534.4)" fill="#000"><text x="-6.67" y="0" font-size="24">0</text></g>
<g transform="translate(190.8,534.4)" fill="#000"><text x="-6.67" y="0" font-size="24">2</text></g>
<g transform="translate(299.6,534.4)" fill="#000"><text x="-6.67" y="0" font-size="24">4</text></g>
<g transform="translate(408.4,534.4)" fill="#000"><text x="-6.67" y="0" font-size="24">6</text></g>
<g transform="translate(298.6,195.3)" fill="#000"><text x="-11.51" y="0" font-size="20.7">2</text></g>
<g transform="translate(298.6,238.1)" fill="#000"><path vector-effect="non-scaling-stroke" transform="translate(-11.51,0) scale(0.01011,-0.01011)" d="M763 0H583V1147Q518 1085 412.5 1023T223 930V1104Q373 1174.5 485.5 1275T645 1470H763Z"/></g>
<g transform="translate(298.6,281.8)" fill="#000"><text x="-11.51" y="0" font-size="20.7">0</text></g>
<g transform="translate(365.3,296.3)" fill="#000"><text x="-14.39" y="0" font-size="20.7">0.4</text></g>
<g transform="translate(425.8,296.3)" fill="#000"><text x="-14.39" y="0" font-size="20.7">0.8</text></g>
<g transform="translate(278.3,206.5) rotate(-90) scale(1.040)" fill="none" stroke="#000" stroke-linecap="round"><path d="M0.4 -7.3C0.5 -9.5 1.6 -10.2 2.6 -9.9C3.6 -9.5 3.9 -8.2 4.3 -6L5.6 0C6.1 2.4 6.9 3.8 8.4 3.8C9.8 3.8 10.6 2.8 10.8 1.5" stroke-width="1.35"/><path d="M9.5 -9.9L1.6 4.0" stroke-width="1.75" stroke-linecap="butt"/></g>
</g>
</svg>
</body></html>
